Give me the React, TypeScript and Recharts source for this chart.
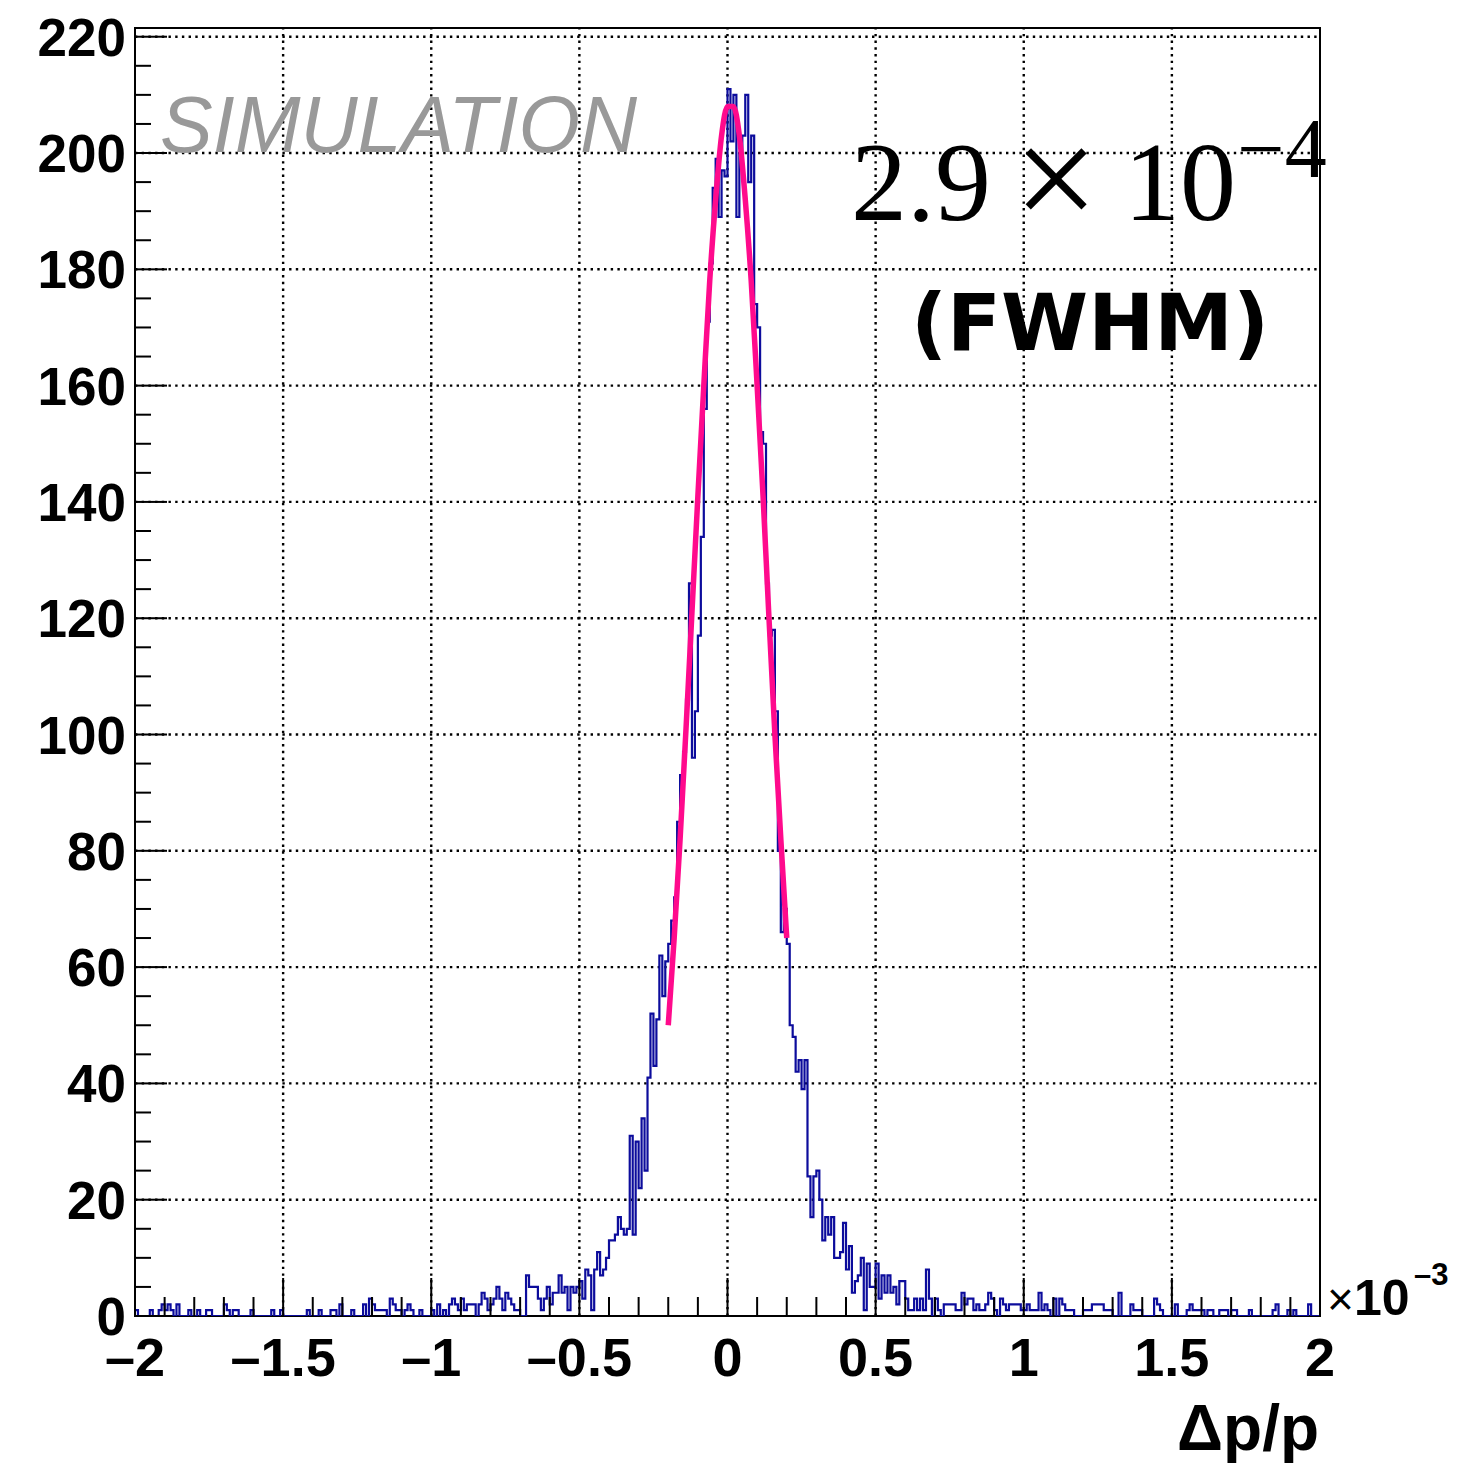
import React from 'react';
import { LineChart, Line, XAxis, YAxis, ReferenceLine, ReferenceArea } from 'recharts';

const W = 1465;
const H = 1475;

// bin contents, 400 bins of 0.01 (x10^-3) from -2 to 2
const leftTail = [
  1, 0, 0, 0, 0, 1, 0, 0, 1, 2,
  1, 2, 1, 0, 2, 0, 0, 0, 1, 0,
  0, 1, 0, 0, 1, 1, 0, 0, 0, 0,
  2, 1, 0, 1, 1, 0, 0, 0, 0, 1,
  0, 0, 0, 0, 0, 0, 1, 0, 0, 1,
  0, 0, 0, 0, 0, 0, 0, 0, 1, 0,
  0, 0, 1, 0, 0, 0, 1, 1, 0, 2,
  0, 0, 0, 1, 0, 0, 0, 2, 0, 3,
  2, 1, 1, 1, 1, 0, 3, 2, 1, 1,
  0, 1, 2, 1, 0, 0, 1, 0, 0, 0,
  1, 0, 2, 0, 1, 0, 2, 3, 2, 1,
  3, 1, 2, 2, 2, 0, 2, 4, 3, 1,
  2, 3, 5, 3, 1, 4, 3, 2, 1, 1,
  0, 0, 7, 5, 5, 5, 3, 1, 3, 5,
  2, 4, 4,
];

const core = [
  7, 4, 5, 1, 5, 4, 5, 6, 3, 8,
  7, 1, 8, 11, 7, 8, 10, 13, 13, 14,
  17, 15, 14, 15, 31, 14, 30, 22, 34, 25,
  41, 52, 43, 51, 62, 55, 61, 64, 68, 72,
  85, 93, 97, 106, 126, 96, 104, 117, 134, 156,
  171, 181, 194, 199, 189, 197, 196, 211, 202, 210,
  189, 200, 203, 210, 195, 203, 174, 170, 152, 150,
  126, 117, 118, 104, 80, 66, 70, 64, 50, 48,
  42, 44, 39, 44, 24, 17, 24, 25, 20, 13,
  17, 14, 17, 10, 10, 11, 16, 8, 12, 4,
  6, 7, 10,
];

const rightTail = [
  1, 9, 5, 5, 9, 3, 7, 4, 7, 4,
  5, 2, 6, 6, 3, 1, 1, 3, 1, 3,
  1, 8, 3, 0, 3, 1, 0, 2, 2, 2,
  2, 1, 1, 4, 2, 3, 3, 1, 2, 1,
  1, 2, 4, 3, 1, 0, 3, 2, 1, 2,
  2, 2, 2, 1, 1, 2, 1, 1, 1, 4,
  1, 2, 1, 0, 3, 0, 3, 2, 1, 1,
  1, 0, 0, 0, 1, 1, 1, 2, 2, 2,
  2, 1, 1, 1, 0, 0, 4, 0, 0, 0,
  2, 1, 1, 1, 0, 0, 0, 0, 3, 2,
  1, 0, 0, 0, 0, 2, 0, 0, 0, 1,
  2, 1, 1, 1, 1, 0, 1, 1, 0, 0,
  1, 1, 1, 0, 1, 1, 0, 0, 0, 0,
  1, 0, 0, 0, 0, 0, 0, 0, 1, 2,
  0, 0, 0, 1, 0, 1, 0, 0, 0, 0,
  2, 0, 0, 0,
];

const counts = [...leftTail, ...core, ...rightTail];
const binLow = -2;
const binWidth = 0.01;

// gaussian fit
const fitX = [-0.2, -0.18, -0.16, -0.14, -0.12, -0.1, -0.08, -0.06, -0.04, -0.02, 0,
  0.02, 0.04, 0.06, 0.08, 0.1, 0.12, 0.14, 0.16, 0.18, 0.2];
const fitY = [50, 65, 82, 101, 121, 141, 160, 178, 192, 203, 208,
  208, 203, 192, 178, 160, 141, 120, 100, 82, 65];

const xLabels = ['\u20132', '\u20131.5', '\u20131', '\u20130.5', '0', '0.5', '1', '1.5', '2'];
const yLabels = ['0', '20', '40', '60', '80', '100', '120', '140', '160', '180', '200', '220'];
const xGrid = [-1.5, -1, -0.5, 0, 0.5, 1, 1.5];
const yGrid = [20, 40, 60, 80, 100, 120, 140, 160, 180, 200, 220];

const xTicks = Array.from({ length: 41 }, (_, i) => Math.round((-2 + i * 0.1) * 10) / 10);
const yTicks = Array.from({ length: 45 }, (_, i) => i * 5);

const histData = counts.map((n, i) => ({ x: Math.round((binLow + i * binWidth) * 100) / 100, n }));
histData.push({ x: 2, n: counts[counts.length - 1] });
const fitData = fitX.map((x, i) => ({ x, f: fitY[i] }));

const labelFont = '"Liberation Sans", Arial, Helvetica, sans-serif';
const serifFont = '"Liberation Serif", "Times New Roman", serif';

const XTick = (props: any) => {
  const { x, y, payload } = props;
  const k = Math.round(payload.value * 10);
  const major = k % 5 === 0;
  return (
    <g>
      <line x1={x} x2={x} y1={y} y2={y - (major ? 38 : 19)} stroke="#000" strokeWidth={2} />
      {major && (
        <text x={x} y={y + 60} textAnchor="middle" fontFamily={labelFont} fontWeight="bold" fontSize={54} fill="#000">
          {xLabels[(k + 20) / 5]}
        </text>
      )}
    </g>
  );
};

const YTick = (props: any) => {
  const { x, y, payload } = props;
  const v = Math.round(payload.value);
  const major = v % 20 === 0;
  return (
    <g>
      <line x1={x} x2={x + (major ? 32 : 16)} y1={y} y2={y} stroke="#000" strokeWidth={2} />
      {major && (
        <text x={x - 9} y={y + 19} textAnchor="end" fontFamily={labelFont} fontWeight="bold" fontSize={53} fill="#000">
          {yLabels[v / 20]}
        </text>
      )}
    </g>
  );
};

const Annotations = () => (
  <svg width={W} height={H} style={{ position: 'absolute', left: 0, top: 0, pointerEvents: 'none' }}>
    <text x={160} y={152} fontFamily={labelFont} fontStyle="italic" fontSize={79} fill="#999999">
      SIMULATION
    </text>
    <g fontFamily={serifFont} fill="#000">
      <text x={921} y={220} textAnchor="middle" fontSize={112}>2.9</text>
      <text x={1056} y={229} textAnchor="middle" fontSize={150}>{'\u00d7'}</text>
      <text x={1180} y={220} textAnchor="middle" fontSize={112}>10</text>
      <text x={1282} y={177} textAnchor="middle" fontSize={84}>{'\u22124'}</text>
    </g>
    <text x={1090} y={350} textAnchor="middle" fontFamily='"DejaVu Sans", Verdana, sans-serif' fontWeight="bold" fontSize={79} fill="#000">
      (FWHM)
    </text>
    <text x={1327} y={1315} fontFamily={labelFont} fontSize={46} fill="#000">{'\u00d7'}</text>
    <text x={1354} y={1315} fontFamily={labelFont} fontWeight="bold" fontSize={50} fill="#000">10</text>
    <text x={1414} y={1285} fontFamily={labelFont} fontWeight="bold" fontSize={31} fill="#000">{'\u20133'}</text>
    <text x={1319} y={1450} textAnchor="end" fontFamily={labelFont} fontWeight="bold" fontSize={64} fill="#000">
      {'\u0394p/p'}
    </text>
  </svg>
);

export default function App() {
  return (
    <div style={{ position: 'absolute', left: 0, top: 0, width: W, height: H, background: '#fff' }}>
      <LineChart width={W} height={H} margin={{ top: 28, right: 145, bottom: 0, left: 0 }}>
        <XAxis
          dataKey="x"
          type="number"
          domain={[-2, 2]}
          allowDataOverflow
          ticks={xTicks}
          interval={0}
          height={159}
          tickSize={0}
          tickMargin={0}
          axisLine={false}
          tickLine={false}
          tick={<XTick />}
        />
        <YAxis
          type="number"
          domain={[0, 221.5]}
          allowDataOverflow
          ticks={yTicks}
          interval={0}
          width={135}
          tickSize={0}
          tickMargin={0}
          axisLine={false}
          tickLine={false}
          tick={<YTick />}
        />
        {xGrid.map((v) => (
          <ReferenceLine key={'gx' + v} x={v} stroke="#000" strokeWidth={2.4} strokeDasharray="2.4 4.3" />
        ))}
        {yGrid.map((v) => (
          <ReferenceLine key={'gy' + v} y={v} stroke="#000" strokeWidth={2.4} strokeDasharray="2.4 4.3" />
        ))}
        <Line
          data={histData}
          dataKey="n"
          type="stepAfter"
          stroke="#0c0c9c"
          strokeWidth={2.2}
          dot={false}
          activeDot={false}
          isAnimationActive={false}
        />
        <Line
          data={fitData}
          dataKey="f"
          type="monotone"
          stroke="#ff0a8c"
          strokeWidth={5.5}
          dot={false}
          activeDot={false}
          isAnimationActive={false}
        />
        <ReferenceArea x1={-2} x2={2} y1={0} y2={221.5} fill="none" stroke="#000" strokeWidth={2} />
      </LineChart>
      <Annotations />
    </div>
  );
}
